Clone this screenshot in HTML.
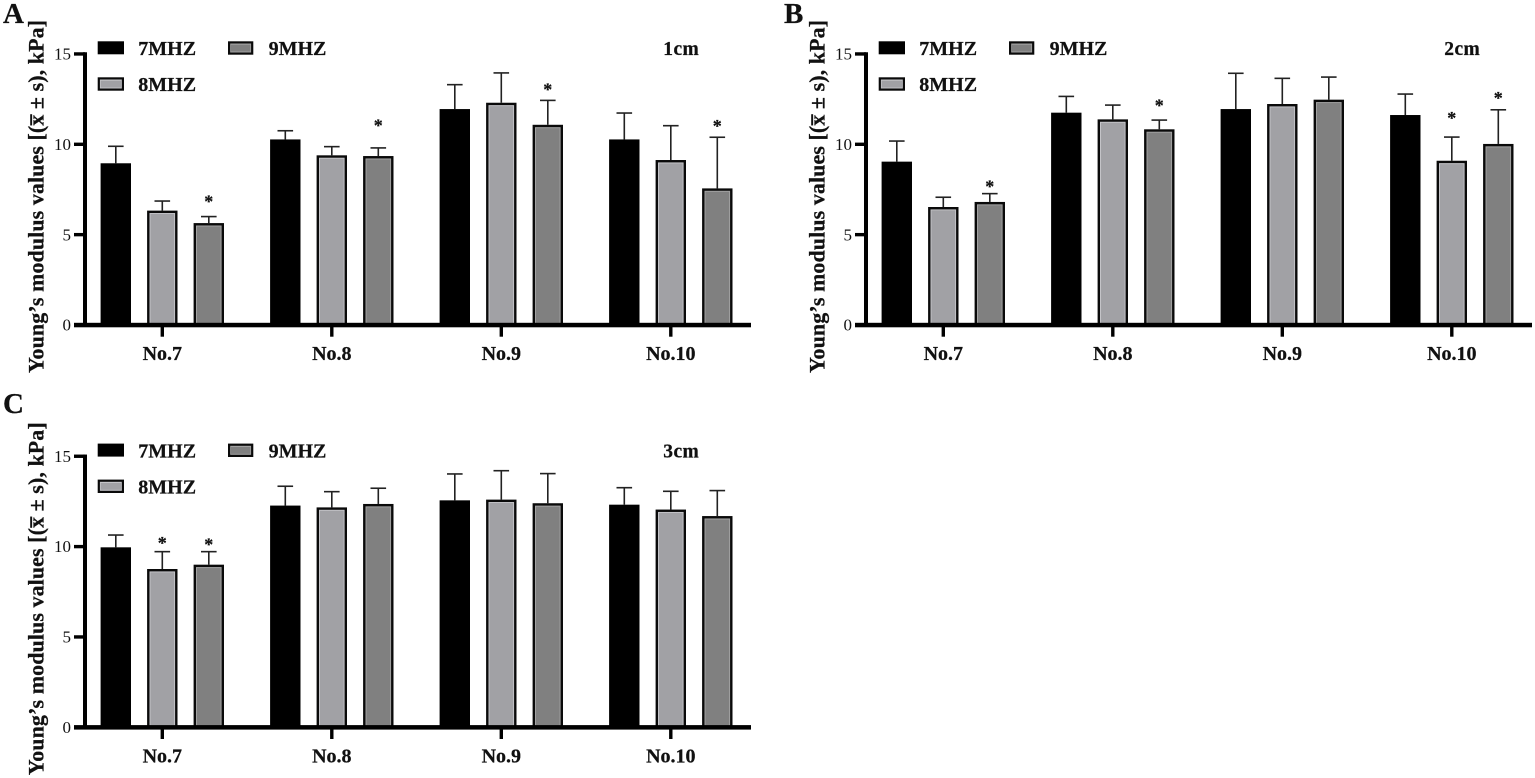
<!DOCTYPE html>
<html lang="en">
<head>
<meta charset="utf-8">
<title>Young's modulus values by frequency and depth</title>
<style>
html,body{margin:0;padding:0;background:#fff;width:1535px;height:778px;overflow:hidden}
svg{display:block;filter:blur(0.35px)}
text{font-family:"Liberation Serif","DejaVu Serif",serif;fill:#111}
.b{font-weight:bold;stroke:#111;stroke-width:0.25px}
</style>
</head>
<body>
<svg id="chart" xmlns="http://www.w3.org/2000/svg" width="1535" height="778" viewBox="0 0 1535 778"></svg>
<script>
const categories = ["No.7", "No.8", "No.9", "No.10"];
const seriesNames = ["7MHZ", "8MHZ", "9MHZ"];
const tickLabels = [0, 5, 10, 15];
const panelLetters = ["A", "B", "C"];
const panelDepths = ["1cm", "2cm", "3cm"];

const meanA7 = [8.95, 10.27, 11.95, 10.27];
const meanA8 = [6.33, 9.39, 12.3, 9.13];
const meanA9 = [5.64, 9.35, 11.08, 7.56];
const sdA7 = [0.94, 0.48, 1.35, 1.46];
const sdA8 = [0.53, 0.48, 1.65, 1.90];
const sdA9 = [0.36, 0.45, 1.35, 2.83];
const starGapA7 = [null, null, null, null];
const starGapA8 = [null, null, null, null];
const starGapA9 = [0.97, 1.38, 0.75, 0.75];

const meanB7 = [9.04, 11.75, 11.95, 11.62];
const meanB8 = [6.53, 11.38, 12.23, 9.09];
const meanB9 = [6.81, 10.83, 12.47, 10.02];
const sdB7 = [1.14, 0.90, 1.98, 1.16];
const sdB8 = [0.54, 0.79, 1.42, 1.31];
const sdB9 = [0.46, 0.51, 1.25, 1.89];
const starGapB7 = [null, null, null, null];
const starGapB8 = [null, null, null, 1.18];
const starGapB9 = [0.52, 0.95, null, 0.8];

const meanC7 = [9.96, 12.27, 12.56, 12.32];
const meanC8 = [8.76, 12.17, 12.6, 12.05];
const meanC9 = [9.0, 12.36, 12.4, 11.69];
const sdC7 = [0.68, 1.07, 1.46, 0.94];
const sdC8 = [0.96, 0.87, 1.6, 1.01];
const sdC9 = [0.72, 0.87, 1.64, 1.41];
const starGapC7 = [null, null, null, null];
const starGapC8 = [0.61, null, null, null];
const starGapC9 = [0.54, null, null, null];

const panelMeans = [[meanA7, meanA8, meanA9], [meanB7, meanB8, meanB9], [meanC7, meanC8, meanC9]];
const panelSds = [[sdA7, sdA8, sdA9], [sdB7, sdB8, sdB9], [sdC7, sdC8, sdC9]];
const panelStars = [[starGapA7, starGapA8, starGapA9], [starGapB7, starGapB8, starGapB9], [starGapC7, starGapC8, starGapC9]];

const NS = "http://www.w3.org/2000/svg";
const root = document.getElementById("chart");

function make(parent, tag, attrs, txt) {
  const el = document.createElementNS(NS, tag);
  for (const k in attrs) el.setAttribute(k, attrs[k]);
  if (txt !== undefined) el.textContent = txt;
  parent.appendChild(el);
  return el;
}

function name(el, label, interactive) {
  
  
  return el;
}

const fillColors = ["#000000", "#a1a1a5", "#808080"];
const edgeColors = ["#000000", "#c4c4c8", "#a2a2a2"];

function drawBox(parent, x, y, w, h, s, label) {
  const g = make(parent, "g", {});
  name(g, label, false);
  make(g, "rect", {x: x, y: y, width: w, height: h, fill: s > 0 ? "#0a0a0a" : "#000"});
  if (s > 0) {
    make(g, "rect", {x: x + 2.4, y: y + 2.4, width: w - 4.8, height: Math.max(0, h - 2.4), fill: edgeColors[s]});
    make(g, "rect", {x: x + 3.4, y: y + 3.4, width: w - 6.8, height: Math.max(0, h - 3.4), fill: fillColors[s]});
  }
  return g;
}

function drawPanel(p) {
  const dx = [0, 781, 0][p];
  const dy = [0, 0, 402.3][p];
  const y0 = 325 + dy;
  const yScale = v => y0 - v * 18.07;
  const xCat = i => dx + 162.3 + i * 169.5;
  const xBar = (i, s) => xCat(i) + (s - 1) * 46.5;

  const g = make(root, "g", {});
  name(g, "panel-" + panelLetters[p].toLowerCase(), false);

  const letterX = [3, 784, 3][p];
  const letterY = [23, 23, 413][p];
  name(make(g, "text", {x: letterX, y: letterY, "font-size": 29, class: "b"}, panelLetters[p]), "panel-label", false);

  // y-axis title
  const tx = dx + 43.5, ty = dy + 196.5;
  const title = make(g, "text", {
    transform: "rotate(-90 " + tx + " " + ty + ")",
    x: tx, y: ty, "text-anchor": "middle", "font-size": 22, class: "b",
    textLength: 353, lengthAdjust: "spacing"
  }, "Young\u2019s modulus values [(x\u0305 \u00b1 s), kPa]");
  name(title, "y-axis-title", false);

  // bars
  categories.forEach((c, i) => {
    for (let s = 0; s < 3; s++) {
      const mean = panelMeans[p][s][i], sd = panelSds[p][s][i], gap = panelStars[p][s][i];
      const cx = xBar(i, s), top = yScale(mean), errTop = yScale(mean + sd);
      const err = make(g, "g", {stroke: "#222", "stroke-width": 1.6, fill: "none"});
      name(err, "error-bar-" + c.toLowerCase().replace(".", "") + "-" + seriesNames[s].toLowerCase(), false);
      make(err, "line", {x1: cx, x2: cx, y1: top, y2: errTop});
      make(err, "line", {x1: cx - 7.8, x2: cx + 7.8, y1: errTop, y2: errTop});
      drawBox(g, cx - 15.2, top, 30.4, y0 - top, s, "bar-" + c.toLowerCase().replace(".", "") + "-" + seriesNames[s].toLowerCase());
      if (gap !== null && gap !== undefined) {
        const sy = yScale(mean + sd + gap);
        name(make(g, "text", {x: cx, y: sy + 8.5, "text-anchor": "middle", "font-size": 18, class: "b"}, "*"), "significance-star", false);
      }
    }
  });

  // axes
  const axisX = dx + 85;
  const axisEnd = dx + 751;
  name(make(g, "rect", {x: axisX - 2, y: yScale(15) - 1.7, width: 4, height: y0 - yScale(15) + 3.7, fill: "#000"}), "y-axis-line", false);
  name(make(g, "rect", {x: dx + 74, y: y0 - 2.2, width: axisEnd - dx - 74, height: 4.5, fill: "#000"}), "x-axis-line", false);

  tickLabels.forEach(t => {
    const y = yScale(t);
    name(make(g, "rect", {x: dx + 74, y: y - 1.7, width: 11, height: 3.4, fill: "#000"}), "y-tick", false);
    name(make(g, "text", {x: dx + 71, y: y + 5.6, "text-anchor": "end", "font-size": 17}, String(t)), "y-tick-label", false);
  });

  categories.forEach((c, i) => {
    const x = xCat(i);
    name(make(g, "rect", {x: x - 1.7, y: y0, width: 3.4, height: 11.7, fill: "#000"}), "x-tick", false);
    name(make(g, "text", {x: x, y: y0 + 35, "text-anchor": "middle", "font-size": 20, class: "b"}, c), "x-tick-label", false);
  });

  // legend
  const legendSpots = [[97.7, 41.3], [97.7, 77.3], [228, 41.3]];
  seriesNames.forEach((n, s) => {
    const lx = dx + legendSpots[s][0], ly = dy + legendSpots[s][1];
    const sw = s === 2 ? 25.3 : 26.3;
    const lg = make(g, "g", {});
    name(lg, "legend-entry-" + n.toLowerCase(), true);
    if (s === 0) {
      make(lg, "rect", {x: lx, y: ly, width: sw, height: 13, fill: "#000"});
    } else {
      make(lg, "rect", {x: lx, y: ly, width: sw, height: 13.4, fill: "#0a0a0a"});
      make(lg, "rect", {x: lx + 2.2, y: ly + 2.2, width: sw - 4.4, height: 9, fill: edgeColors[s]});
      make(lg, "rect", {x: lx + 3, y: ly + 3.4, width: sw - 6, height: 6.8, fill: fillColors[s]});
    }
    make(lg, "text", {x: lx + 40.6, y: ly + 13.8, "font-size": 20, class: "b"}, n);
  });

  name(make(g, "text", {x: dx + 663.3, y: dy + 55, "font-size": 19.5, class: "b", "letter-spacing": 0.4}, panelDepths[p]), "depth-label", false);
}

[0, 1, 2].forEach(drawPanel);
</script>
</body>
</html>
